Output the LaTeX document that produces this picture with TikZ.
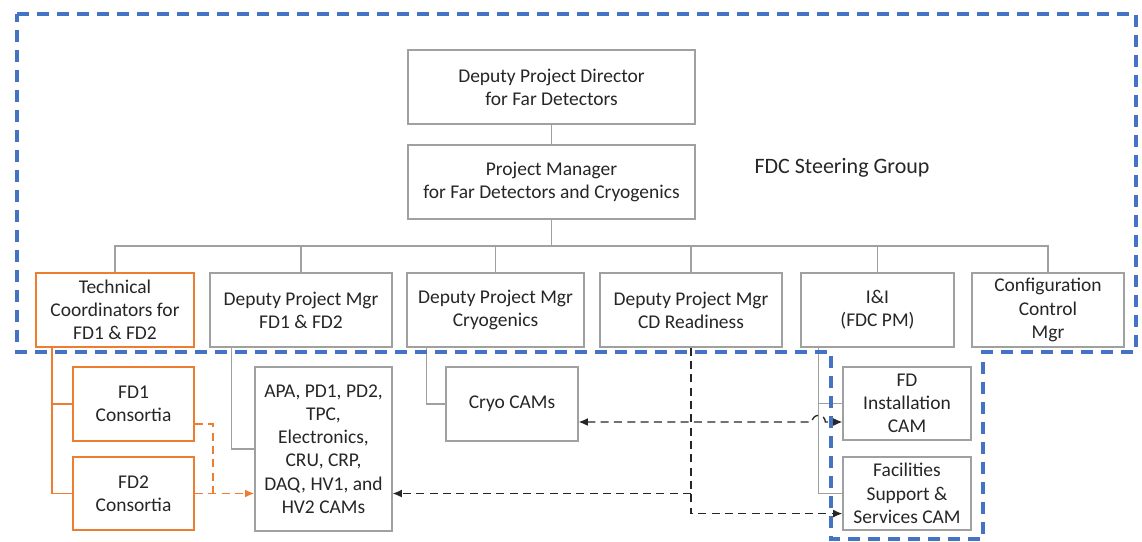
\documentclass[tikz,border=0pt]{standalone}
\usepackage{fontspec}
\setmainfont{Carlito}
\usetikzlibrary{calc,arrows.meta}
\definecolor{fdblue}{HTML}{4472C4}
\definecolor{fdorange}{HTML}{ED7D31}
\definecolor{boxgray}{RGB}{160,160,160}
\definecolor{txt}{RGB}{38,38,38}
\begin{document}
\begin{tikzpicture}[x=0.75pt,y=-0.75pt,
 box/.style={draw=boxgray, line width=0.9pt, fill=white, align=center, inner sep=0pt, text=txt, font=\fontsize{14.6}{17.4}\selectfont},
 obox/.style={box, draw=fdorange, line width=1.6pt},
 sz/.style 2 args={minimum width=#1*0.75pt, minimum height=#2*0.75pt},
 conn/.style={draw=boxgray, line width=0.8pt},
 oconn/.style={draw=fdorange, line width=1.4pt},
 dsh/.style={draw=black!85, line width=1pt, dash pattern=on 6pt off 4pt},
 odsh/.style={draw=fdorange, line width=1.4pt, dash pattern=on 6pt off 4pt},
 tip/.style={-{Latex[length=7pt,width=6pt]}},
 dtip/.style={{Latex[length=7pt,width=6pt]}-{Latex[length=7pt,width=6pt]}},
 group/.style={draw=fdblue, line width=3pt, dash pattern=on 9pt off 6pt}
]
\useasboundingbox (0,0) rectangle (1142,542);

% top levels
\node[box,sz={287}{74}] (dir) at (551.5,87) {Deputy Project Director\\for Far Detectors};
\node[box,sz={287}{74}] (pm) at (551.5,182) {Project Manager\\for Far Detectors and Cryogenics};
\node[text=txt, font=\fontsize{16.5}{20}\selectfont] (sg) at (842,168) {FDC Steering Group};

% row
\node[obox,sz={158}{74}] (tc) at (115,310) {Technical\\Coordinators for\\FD1 \& FD2};
\node[box,sz={182}{74}] (dfd) at (301,310) {Deputy Project Mgr\\FD1 \& FD2};
\node[box,sz={177}{74}] (dcr) at (495.5,310) {Deputy Project Mgr\\Cryogenics};
\node[box,sz={182}{74}] (dcd) at (691,310) {Deputy Project Mgr\\CD Readiness};
\node[box,sz={153}{74}] (ii) at (877.5,310) {I\&I\\(FDC PM)};
\node[box,sz={152}{74}] (cc) at (1048,310) {Configuration\\Control\\Mgr};

% second level
\node[obox,sz={121}{74}] (fd1) at (133.5,404) {FD1\\Consortia};
\node[obox,sz={121}{73}] (fd2) at (133.5,493.5) {FD2\\Consortia};
\node[box,sz={137}{164}] (apa) at (323.5,449) {APA, PD1, PD2,\\TPC,\\Electronics,\\CRU, CRP,\\DAQ, HV1, and\\HV2 CAMs};
\node[box,sz={132}{74}] (cryocam) at (512,404) {Cryo CAMs};
\node[box,sz={128}{73}] (fdi) at (907,403.5) {FD\\Installation\\CAM};
\node[box,sz={128}{73}] (fac) at (907,493.5) {Facilities\\Support \&\\Services CAM};

% tree connectors
\coordinate (bus) at (551.5,246);
\draw[conn] (dir.south) -- (pm.south |- dir.south) -- (pm.north);
\draw[conn] (pm.south) -- (bus);
\foreach \n in {tc,dfd,dcr,dcd,ii,cc} \draw[conn] (\n.north) |- (bus);

\coordinate (ot) at ($(tc.south west)+(17,0)$);
\draw[oconn] (ot) |- (fd2.west);
\draw[oconn] (fd1.west) -| (ot);

\draw[conn] ($(dfd.south west)+(22,0)$) |- (apa.west);
\draw[conn] ($(dcr.south west)+(20,0)$) |- (cryocam.west);
\coordinate (iid) at ($(ii.south west)+(18,0)$);
\draw[conn] (iid) |- (fac.west);
\draw[conn] (fdi.west) -| (iid);

% dashed relations
\draw[odsh] ($(fd1.east)+(0,20)$) -| ($(fd2.east)+(18,0)$);
\draw[odsh,tip] (fd2.east) -- (apa.west |- fd2.east);

\draw[dsh,tip] (dcd.south) |- ($(fac.south west)+(0,-17)$);
\draw[dsh,tip] (dcd.south |- fd2.east) -- (apa.east |- fd2.east);
\coordinate (hop) at (812,422);
\draw[dsh,dtip] ($(cryocam.east)+(0,18)$) -- (hop) arc[start angle=180,end angle=0,radius=5pt] -- ($(fdi.west)+(0,18.5)$);

% group outline
\draw[group] (17,14) -- (1136,14) -- (1136,352) -- (983,352) -- (983,539) -- (831,539) -- (831,352) -- (17,352) -- cycle;
\end{tikzpicture}
\end{document}
